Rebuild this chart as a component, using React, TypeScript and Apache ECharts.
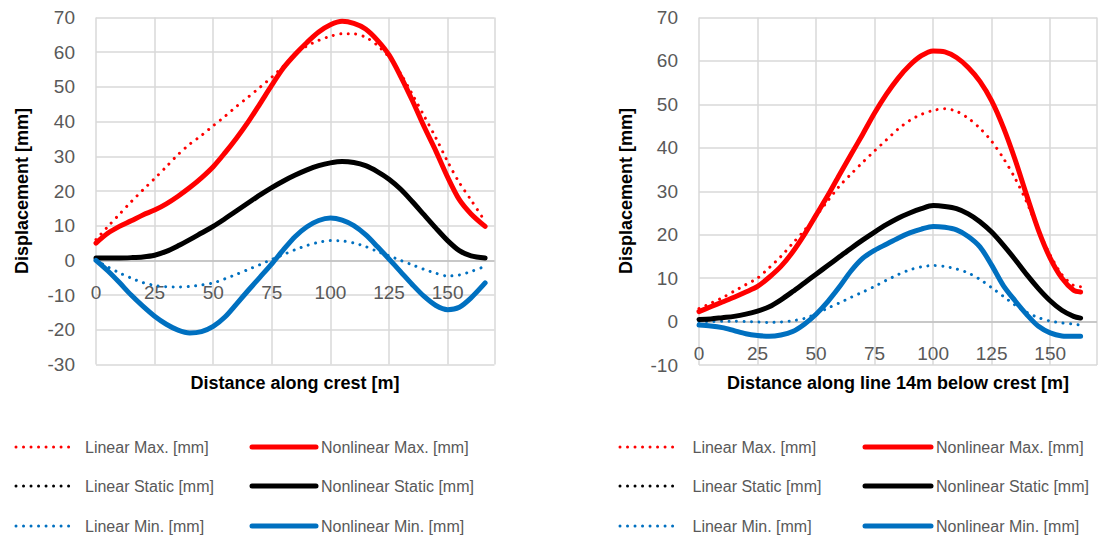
import { useEffect, useRef } from "react";
import * as echarts from "echarts";

// ---------- data ----------
const crestX = [0, 5, 10, 15, 20, 25, 30, 35, 40, 45, 50, 55, 60, 65, 70, 75, 80, 85, 90, 95, 100, 105, 110, 115, 120, 125, 130, 135, 140, 145, 150, 155, 160, 166];
const crestLinearMax = [6, 9.7, 13.3, 16.9, 20.3, 23.6, 27, 30.5, 33.5, 36, 38.8, 41.5, 44.4, 47.1, 49.9, 52.8, 56, 59.4, 61.8, 63.4, 64.6, 65.3, 65.3, 64.3, 62, 58.6, 53.8, 47.8, 41.6, 35.3, 28.5, 22.4, 17.4, 11.2];
const crestNonlinearMax = [5, 7.8, 9.8, 11.4, 13.1, 14.5, 16.3, 18.5, 21, 23.8, 27, 31, 35.3, 40, 45.2, 50.5, 55.5, 59.4, 62.8, 65.8, 67.9, 68.9, 68.3, 66.7, 63.5, 59.2, 53, 46, 38.5, 31.5, 24, 17.5, 13.4, 9.8];
const crestLinearStatic = [0.7, 0.7, 0.7, 0.8, 1.0, 1.5, 2.6, 4.2, 6, 7.9, 9.8, 12, 14.3, 16.6, 18.9, 21, 22.9, 24.6, 26.1, 27.3, 28.1, 28.5, 28.2, 27.3, 25.6, 23.4, 20.5, 16.9, 13.1, 9.3, 5.7, 2.8, 1.3, 0.7];
const crestNonlinearStatic = [0.7, 0.7, 0.7, 0.8, 1.0, 1.5, 2.6, 4.2, 6, 7.9, 9.8, 12, 14.3, 16.6, 18.9, 21, 22.9, 24.6, 26.1, 27.3, 28.1, 28.5, 28.2, 27.3, 25.6, 23.4, 20.5, 16.9, 13.1, 9.3, 5.7, 2.8, 1.3, 0.7];
const crestLinearMin = [0, -1.9, -3.6, -5.1, -6.4, -7.2, -7.6, -7.7, -7.5, -7.1, -6.5, -5.3, -4, -2.6, -1.2, 0.3, 1.7, 3.1, 4.3, 5.2, 5.7, 5.6, 5, 4, 2.6, 1.3, 0, -1.3, -2.6, -3.7, -4.5, -4.2, -3.2, -1.7];
const crestNonlinearMin = [0, -3, -6.4, -10, -13.2, -16.1, -18.4, -20.1, -20.9, -20.5, -19, -16.3, -12.5, -8.6, -4.8, -1, 3.1, 6.9, 9.7, 11.5, 12.2, 11.6, 10, 7.4, 4, 0.4, -3.3, -7, -10.4, -13, -14.2, -13.5, -10.8, -6.5];

const belowX = [0, 5, 10, 15, 20, 25, 30, 35, 40, 45, 50, 55, 60, 65, 70, 75, 80, 85, 90, 95, 100, 105, 110, 115, 120, 125, 130, 135, 140, 145, 150, 155, 160, 163];
const belowLinearMax = [3, 4.2, 5.5, 7, 8.5, 10, 12.4, 15, 18, 21, 24.3, 27.8, 31.2, 34, 36.7, 39.3, 41.8, 44.3, 46.3, 47.7, 48.6, 49, 48.4, 46.8, 44.5, 41.5, 37.6, 33, 27.5, 21, 15.3, 10.8, 8.3, 8];
const belowNonlinearMax = [2.3, 3.4, 4.5, 5.6, 6.8, 8.1, 10.2, 12.7, 16, 20, 24.5, 29, 33.8, 38.5, 43.2, 48, 52.3, 56, 59, 61.2, 62.3, 62.1, 60.8, 58.5, 55.3, 50.8, 44.7, 37.3, 29, 21, 14.6, 10, 7.2, 6.8];
const belowLinearStatic = [0.5, 0.6, 0.9, 1.2, 1.7, 2.4, 3.4, 5, 6.9, 8.9, 10.9, 12.9, 14.9, 16.9, 18.8, 20.6, 22.3, 23.8, 25, 26, 26.7, 26.5, 26, 24.8, 23, 20.6, 17.6, 14.3, 10.8, 7.6, 4.8, 2.6, 1.2, 0.8];
const belowNonlinearStatic = [0.5, 0.6, 0.9, 1.2, 1.7, 2.4, 3.4, 5, 6.9, 8.9, 10.9, 12.9, 14.9, 16.9, 18.8, 20.6, 22.3, 23.8, 25, 26, 26.7, 26.5, 26, 24.8, 23, 20.6, 17.6, 14.3, 10.8, 7.6, 4.8, 2.6, 1.2, 0.8];
const belowLinearMin = [0, 0, 0.1, 0.1, 0, -0.1, -0.2, -0.1, 0.2, 0.7, 1.8, 3.1, 4.3, 5.6, 6.8, 8.1, 9.5, 10.8, 11.9, 12.6, 12.9, 12.7, 12.1, 11.2, 9.7, 7.8, 5.8, 3.8, 2.1, 0.9, 0.1, -0.3, -0.6, -0.8];
const belowNonlinearMin = [-0.8, -1, -1.4, -2.1, -2.8, -3.2, -3.4, -3.1, -2.3, -0.6, 1.7, 4.6, 8, 11.7, 14.6, 16.4, 17.8, 19.2, 20.4, 21.3, 21.9, 21.7, 21.1, 19.6, 17.2, 13, 8.3, 4.8, 1.6, -1.1, -2.6, -3.3, -3.4, -3.4];

const xTicks = [0, 25, 50, 75, 100, 125, 150];
const seriesNames = [
  "Linear Max. [mm]",
  "Nonlinear Max. [mm]",
  "Linear Static [mm]",
  "Nonlinear Static [mm]",
  "Linear Min. [mm]",
  "Nonlinear Min. [mm]",
];
const xTitles = ["Distance along crest [m]", "Distance along line 14m below crest [m]"];
const yTitle = "Displacement [mm]";

// ---------- styles ----------
const FONT = "'Liberation Sans', Arial, sans-serif";
const GRAY = "#595959";
const RED = "#FF0000";
const BLACK = "#000000";
const BLUE = "#0070C0";
const GRID_COLOR = "#D9D9D9";
const ZERO_COLOR = "#BFBFBF";

function makeSeries(name: string, xs: number[], ys: number[], color: string, dotted: boolean, gi: number, zeroLine = false) {
  const s: any = {
    type: "line",
    name,
    xAxisIndex: gi,
    yAxisIndex: gi,
    data: xs.map((x, i) => [x, ys[i]]),
    smooth: 0.3,
    symbol: "none",
    silent: true,
    z: dotted ? 2 : 3,
    itemStyle: { color },
    lineStyle: dotted
      ? { color, width: 3, type: [0.01, 7.5], cap: "round" }
      : { color, width: 5, cap: "round", join: "round" },
  };
  if (zeroLine) {
    s.markLine = {
      silent: true,
      symbol: "none",
      label: { show: false },
      lineStyle: { color: ZERO_COLOR, width: 1.5, type: "solid" },
      z: 1,
      data: [{ yAxis: 0 }],
    };
  }
  return s;
}

function makeXAxis(gi: number, labelMargin: number) {
  return {
    type: "value",
    gridIndex: gi,
    min: 0,
    max: 170,
    interval: 25,
    axisLine: { show: false, onZero: false },
    axisTick: { show: false },
    axisLabel: {
      color: GRAY,
      fontSize: 19,
      fontFamily: FONT,
      margin: labelMargin,
      formatter: (v: number) => (xTicks.includes(v) ? String(v) : ""),
    },
    splitLine: { show: true, lineStyle: { color: GRID_COLOR, width: 1.5 } },
  };
}

function makeYAxis(gi: number, min: number) {
  return {
    type: "value",
    gridIndex: gi,
    min,
    max: 70,
    interval: 10,
    axisLine: { show: false },
    axisTick: { show: false },
    axisLabel: { color: GRAY, fontSize: 19, fontFamily: FONT, margin: 21 },
    splitLine: { show: true, lineStyle: { color: GRID_COLOR, width: 1.5 } },
  };
}

const rowTops = [439, 478, 518];

function makeLegend(left: number, top: number, name: string, itemWidth: number, width: number, pad: number) {
  return {
    left,
    top,
    orient: "horizontal",
    padding: 0,
    itemWidth,
    itemHeight: 16,
    selectedMode: false,
    data: [name],
    lineStyle: { width },
    itemStyle: { opacity: 0 },
    textStyle: { color: GRAY, fontSize: 16, lineHeight: 16, fontFamily: FONT, padding: [0, 0, 0, pad] },
  };
}

const legends: any[] = [];
[0, 1, 2].forEach((row) => {
  legends.push(makeLegend(14.5, rowTops[row], seriesNames[row * 2], 59, 3, 5));
  legends.push(makeLegend(249.5, rowTops[row], seriesNames[row * 2 + 1], 64, 5, 0));
  legends.push(makeLegend(618.5, rowTops[row], seriesNames[row * 2], 60, 3, 7.5));
  legends.push(makeLegend(862.5, rowTops[row], seriesNames[row * 2 + 1], 66, 5, 0));
});

const option = {
  animation: false,
  backgroundColor: "#ffffff",
  grid: [
    { left: 96, top: 17.5, width: 398.5, height: 347, containLabel: false },
    { left: 699, top: 17.5, width: 398, height: 347.5, containLabel: false },
  ],
  xAxis: [makeXAxis(0, -81.5), makeXAxis(1, -21.5)],
  yAxis: [makeYAxis(0, -30), makeYAxis(1, -10)],
  legend: legends,
  graphic: [
    { type: "text", x: 295, y: 383, style: { text: xTitles[0], font: `bold 18px ${FONT}`, fill: "#000", align: "center", verticalAlign: "middle" } },
    { type: "text", x: 898, y: 383, style: { text: xTitles[1], font: `bold 18px ${FONT}`, fill: "#000", align: "center", verticalAlign: "middle" } },
    { type: "text", x: 22, y: 191, rotation: Math.PI / 2, style: { text: yTitle, font: `bold 18px ${FONT}`, fill: "#000", align: "center", verticalAlign: "middle" } },
    { type: "text", x: 626, y: 191, rotation: Math.PI / 2, style: { text: yTitle, font: `bold 18px ${FONT}`, fill: "#000", align: "center", verticalAlign: "middle" } },
  ],
  series: [
    makeSeries(seriesNames[0], crestX, crestLinearMax, RED, true, 0, true),
    makeSeries(seriesNames[1], crestX, crestNonlinearMax, RED, false, 0),
    makeSeries(seriesNames[2], crestX, crestLinearStatic, BLACK, true, 0),
    makeSeries(seriesNames[3], crestX, crestNonlinearStatic, BLACK, false, 0),
    makeSeries(seriesNames[4], crestX, crestLinearMin, BLUE, true, 0),
    makeSeries(seriesNames[5], crestX, crestNonlinearMin, BLUE, false, 0),
    makeSeries(seriesNames[0], belowX, belowLinearMax, RED, true, 1, true),
    makeSeries(seriesNames[1], belowX, belowNonlinearMax, RED, false, 1),
    makeSeries(seriesNames[2], belowX, belowLinearStatic, BLACK, true, 1),
    makeSeries(seriesNames[3], belowX, belowNonlinearStatic, BLACK, false, 1),
    makeSeries(seriesNames[4], belowX, belowLinearMin, BLUE, true, 1),
    makeSeries(seriesNames[5], belowX, belowNonlinearMin, BLUE, false, 1),
  ],
};

export default function App() {
  const ref = useRef<HTMLDivElement>(null);
  useEffect(() => {
    if (!ref.current) return;
    const chart = echarts.init(ref.current, null, { renderer: "svg" });
    chart.setOption(option as any);
    return () => chart.dispose();
  }, []);
  return (
    <div
      ref={ref}
      style={{ position: "fixed", left: 0, top: 0, width: 1120, height: 536, background: "#fff" }}
    />
  );
}
